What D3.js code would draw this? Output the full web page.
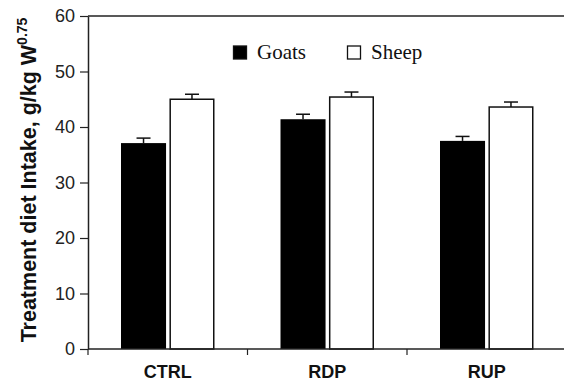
<!DOCTYPE html>
<html>
<head>
<meta charset="utf-8">
<script src="https://cdn.jsdelivr.net/npm/d3@7"></script>
<style>
  body { margin: 0; background: #fff; }
  svg { display: block; }
</style>
</head>
<body>
<svg id="chart" width="564" height="381"></svg>
<script>
// data
const groups = ["CTRL", "RDP", "RUP"];
const series = ["Goats", "Sheep"];
const goats = [37.1, 41.4, 37.5];
const sheep = [45.0, 45.4, 43.6];
const goatsErr = [0.9, 0.9, 0.8];
const sheepErr = [0.9, 0.9, 0.9];
const yTicks = [0, 10, 20, 30, 40, 50, 60];

const svg = d3.select("#chart");
const plotLeft = 88, plotTop = 16, plotBottom = 349;

let y = d3.scaleLinear().domain([0, 60]).range([plotBottom, plotTop]);
let x = d3.scaleBand().domain(groups).range([plotLeft, plotLeft + 3 * 159.5]);
let xs = d3.scaleBand().domain(series)
  .range([33, x.bandwidth() - 33]).paddingInner(0.07);

// top frame line
svg.append("line")
  .attr("x1", plotLeft).attr("x2", 564)
  .attr("y1", y(60)).attr("y2", y(60))
  .attr("stroke", "#222").attr("stroke-width", 1.5);

// bars
let rows = groups.map((g, i) => [
  {g: g, s: "Goats", v: goats[i], e: goatsErr[i]},
  {g: g, s: "Sheep", v: sheep[i], e: sheepErr[i]}
]).flat();

let bars = svg.append("g").selectAll("g").data(rows).enter().append("g")
  .attr("transform", d => `translate(${x(d.g) + xs(d.s)},0)`);

// error bars (upper only)
bars.append("line")
  .attr("x1", xs.bandwidth() / 2).attr("x2", xs.bandwidth() / 2)
  .attr("y1", d => y(d.v)).attr("y2", d => y(d.v + d.e))
  .attr("stroke", "#111").attr("stroke-width", 1.5);
bars.append("line")
  .attr("x1", xs.bandwidth() / 2 - 7).attr("x2", xs.bandwidth() / 2 + 7)
  .attr("y1", d => y(d.v + d.e)).attr("y2", d => y(d.v + d.e))
  .attr("stroke", "#111").attr("stroke-width", 1.5);

bars.append("rect")
  .attr("x", d => d.s == "Sheep" ? 0.75 : 0)
  .attr("y", d => y(d.v))
  .attr("width", d => d.s == "Sheep" ? xs.bandwidth() - 1.5 : xs.bandwidth())
  .attr("height", d => y(0) - y(d.v))
  .attr("fill", d => d.s == "Goats" ? "#000" : "#fff")
  .attr("stroke", d => d.s == "Sheep" ? "#111" : "none")
  .attr("stroke-width", 1.5);

// y axis
let yAxis = svg.append("g")
  .attr("transform", `translate(${plotLeft},0)`)
  .call(d3.axisLeft(y).tickValues(yTicks).tickSize(8).tickSizeOuter(0).tickPadding(5));
yAxis.select(".domain").attr("stroke", "#222").attr("stroke-width", 1.5);
yAxis.selectAll(".tick line").attr("stroke", "#222").attr("stroke-width", 1.2);
yAxis.selectAll("text")
  .attr("font-family", "Liberation Sans, Arial, sans-serif")
  .attr("font-size", 18).attr("fill", "#222");

// x axis line and ticks on group boundaries
svg.append("line")
  .attr("x1", plotLeft).attr("x2", 564)
  .attr("y1", plotBottom).attr("y2", plotBottom)
  .attr("stroke", "#222").attr("stroke-width", 1.5);
svg.append("g").selectAll("line").data(groups).enter().append("line")
  .attr("x1", d => x(d)).attr("x2", d => x(d))
  .attr("y1", plotBottom).attr("y2", plotBottom + 6)
  .attr("stroke", "#222").attr("stroke-width", 1.2);
svg.append("g").selectAll("text").data(groups).enter().append("text")
  .attr("x", d => x(d) + x.bandwidth() / 2)
  .attr("y", 378)
  .attr("text-anchor", "middle")
  .attr("font-family", "Liberation Sans, Arial, sans-serif")
  .attr("font-weight", "bold").attr("font-size", 18).attr("fill", "#111")
  .text(d => d);

// y axis title
let title = svg.append("text")
  .attr("transform", "translate(36,180) rotate(-90)")
  .attr("text-anchor", "middle")
  .attr("font-family", "Liberation Sans, Arial, sans-serif")
  .attr("font-weight", "bold").attr("font-size", 21.5).attr("fill", "#111");
title.append("tspan").text("Treatment diet Intake, g/kg W");
title.append("tspan").attr("dy", -9).attr("font-size", 14).text("0.75");

// legend
let legend = svg.append("g").selectAll("g").data(series).enter().append("g")
  .attr("transform", (d, i) => `translate(${233.5 + i * 114},46)`);
legend.append("rect")
  .attr("width", 13).attr("height", 13)
  .attr("fill", d => d == "Goats" ? "#000" : "#fff")
  .attr("stroke", "#111").attr("stroke-width", 1.3);
legend.append("text")
  .attr("x", 23.5).attr("y", 13)
  .attr("font-family", "Liberation Serif, Times New Roman, serif")
  .attr("font-size", 21).attr("fill", "#111")
  .text(d => d);
</script>
</body>
</html>
